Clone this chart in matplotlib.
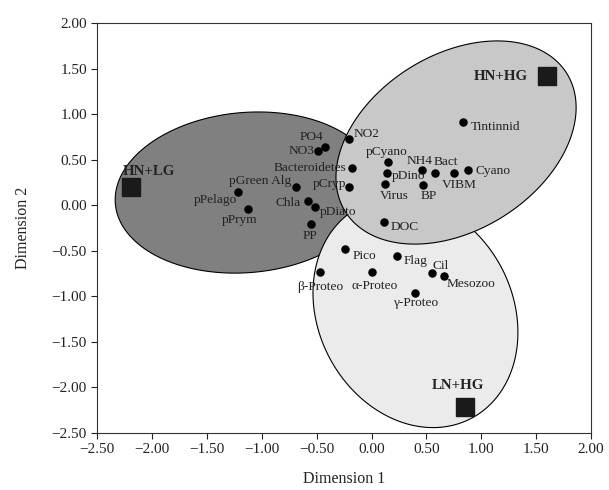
import numpy as np
import matplotlib
matplotlib.use("Agg")
import matplotlib.pyplot as plt
from matplotlib.ticker import FuncFormatter, MultipleLocator

plt.rcParams['font.family'] = ['Liberation Serif', 'DejaVu Serif']

# variables (MDS coordinates)
nomes = ["pPelago", "pPrym", "pGreen Alg", "Chla", "pDiato", "PP", "PO4", "NO3",
         "Bacteroidetes", "pCryp", "NO2", "Tintinnid", "pCyano", "NH4", "Bact",
         "Cyano", "pDino", "VIBM", "Virus", "BP", "DOC", "Pico", "Flag", "Cil",
         "Mesozoo", "α-Proteo", "β-Proteo", "γ-Proteo"]
dim1 = [-1.22, -1.13, -0.69, -0.58, -0.52, -0.55, -0.42, -0.49,
        -0.18, -0.21, -0.21, 0.83, 0.15, 0.46, 0.58,
        0.88, 0.14, 0.75, 0.12, 0.47, 0.11, -0.24, 0.23, 0.55,
        0.66, 0.00, -0.47, 0.40]
dim2 = [0.15, -0.04, 0.20, 0.05, -0.02, -0.21, 0.64, 0.60,
        0.41, 0.20, 0.73, 0.92, 0.48, 0.39, 0.36,
        0.39, 0.35, 0.36, 0.23, 0.22, -0.18, -0.48, -0.56, -0.74,
        -0.78, -0.73, -0.73, -0.96]

# treatments (squares)
grupos = ["HN+LG", "HN+HG", "LN+HG"]
grupo_d1 = [-2.19, 1.60, 0.85]
grupo_d2 = [0.20, 1.42, -2.22]

# label placement: (dx px, dy px, ha)
rotulos = {
    "pPelago": (-1, -8, "right"), "pPrym": (-8, -11, "center"),
    "pGreen Alg": (-5, 6, "right"), "Chla": (-7, -2, "right"),
    "pDiato": (5, -5, "left"), "PP": (-1, -12, "center"),
    "PO4": (-2, 10, "right"), "NO3": (-3, 0, "right"),
    "Bacteroidetes": (-5, 0, "right"), "pCryp": (-2, 3, "right"),
    "NO2": (5, 5, "left"), "Tintinnid": (8, -5, "left"),
    "pCyano": (-1, 10, "center"), "NH4": (-2, 9, "center"),
    "Bact": (-2, 11, "left"), "Cyano": (7, -1, "left"),
    "pDino": (5, -3, "left"), "VIBM": (5, -12, "center"),
    "Virus": (10, -12, "center"), "BP": (6, -11, "center"),
    "DOC": (7, -5, "left"), "Pico": (7, -7, "left"),
    "Flag": (7, -5, "left"), "Cil": (1, 7, "left"),
    "Mesozoo": (3, -8, "left"), "α-Proteo": (3, -14, "center"),
    "β-Proteo": (0, -15, "center"), "γ-Proteo": (0, -10, "center"),
}
rotulos_grupo = {"HN+LG": (-9, 16, "left"), "HN+HG": (-19, 0, "right"),
                 "LN+HG": (-7, 22, "center")}

# ellipses: centre, semi-axes (x units), screen angle, colour
px_x, px_y = 109.7, 91.0
elipses = [
    ((-1.14, 0.14), 1.20, 0.73, 5, "#808080"),
    ((0.40, -1.18), 1.09, 0.885, -62, "#ebebeb"),
    ((0.77, 0.69), 1.19, 0.80, 32, "#c8c8c8"),
]


def pontos_elipse(c, a, b, ang):
    t = np.linspace(0, 2 * np.pi, 300)
    u, v = a * np.cos(t), b * np.sin(t)
    r = np.radians(ang)
    dx = u * np.cos(r) - v * np.sin(r)
    dy = (u * np.sin(r) + v * np.cos(r)) * px_x / px_y
    return c[0] + dx, c[1] + dy


fig = plt.figure(figsize=(6.09, 4.90), dpi=100)
ax = fig.add_axes([0.1598, 0.1169, 0.8106, 0.8355])

for c, a, b, ang, cor in elipses:
    xs, ys = pontos_elipse(c, a, b, ang)
    ax.fill(xs, ys, facecolor=cor, edgecolor="black", linewidth=0.8, zorder=1)

ax.scatter(dim1, dim2, s=26, color="black", zorder=3)
ax.scatter(grupo_d1, grupo_d2, s=155, marker="s", color="#1a1a1a", zorder=3)

for n, x, y in zip(nomes, dim1, dim2):
    dx, dy, ha = rotulos[n]
    ax.annotate(n, (x, y), xytext=(dx * 0.72, dy * 0.72), textcoords="offset points",
                ha=ha, va="center", fontsize=9.6, color="#222222", zorder=4)

for n, x, y in zip(grupos, grupo_d1, grupo_d2):
    dx, dy, ha = rotulos_grupo[n]
    ax.annotate(n, (x, y), xytext=(dx * 0.72, dy * 0.72), textcoords="offset points",
                ha=ha, va="center", fontsize=10.8, fontweight="bold", color="#222222", zorder=4)

ax.set_xlim(-2.5, 2.0)
ax.set_ylim(-2.5, 2.0)
ax.xaxis.set_major_locator(MultipleLocator(0.5))
ax.yaxis.set_major_locator(MultipleLocator(0.5))
fmt = FuncFormatter(lambda v, p: f"{v:.2f}".replace("-", "\u2212"))
ax.xaxis.set_major_formatter(fmt)
ax.yaxis.set_major_formatter(fmt)
ax.tick_params(direction="out", length=4, width=0.8, labelsize=11, colors="#222222")
for s in ax.spines.values():
    s.set_linewidth(0.8)
    s.set_color("#333333")

ax.set_xlabel("Dimension 1", fontsize=11.5, color="#222222", labelpad=11)
ax.set_ylabel("Dimension 2", fontsize=11.5, color="#222222", labelpad=15)

fig.savefig("out.png", dpi=100)
